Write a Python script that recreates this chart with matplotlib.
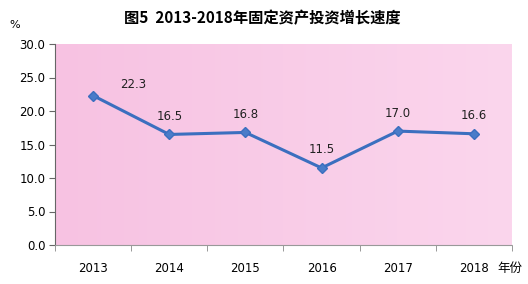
import numpy as np
import matplotlib.pyplot as plt

plt.rcParams['font.family'] = ['Noto Sans CJK SC', 'DejaVu Sans']

years = ['2013', '2014', '2015', '2016', '2017', '2018']
growth = [22.3, 16.5, 16.8, 11.5, 17.0, 16.6]
yticks = [0.0, 5.0, 10.0, 15.0, 20.0, 25.0, 30.0]

fig = plt.figure(figsize=(5.28, 2.84), dpi=100)
ax = fig.add_axes([55 / 528, 39 / 284, 457 / 528, 201 / 284])

x = np.arange(len(years))

# pink gradient background, stronger on the left
grad = np.linspace(0, 1, 256).reshape(1, -1)
c0 = np.array([247, 194, 226]) / 255
c1 = np.array([251, 214, 237]) / 255
img = c0[None, None, :] * (1 - grad[..., None]) + c1[None, None, :] * grad[..., None]
ax.imshow(img, extent=[-0.5, 5.5, 0, 30], aspect='auto', zorder=0)

ax.plot(x, growth, color='#3b6fbf', linewidth=2.2, marker='D', markersize=5,
        markerfacecolor='#4a7cc9', markeredgecolor='#3b6fbf', zorder=3)

for i, v in enumerate(growth):
    if i == 0:
        ax.annotate(f'{v:.1f}', (i, v), xytext=(29, 8), textcoords='offset points',
                    ha='center', va='center', fontsize=8.5, color='#222222',
                    family='DejaVu Sans')
    else:
        ax.annotate(f'{v:.1f}', (i, v), xytext=(0, 13), textcoords='offset points',
                    ha='center', va='center', fontsize=8.5, color='#222222',
                    family='DejaVu Sans')

ax.set_xlim(-0.5, 5.5)
ax.set_ylim(0, 30)
ax.set_yticks(yticks)
ax.set_yticklabels([f'{t:.1f}' for t in yticks], fontsize=8.5, family='DejaVu Sans')
ax.set_xticks(x)
ax.set_xticklabels(years, fontsize=8.5, family='DejaVu Sans')
ax.set_xticks(np.arange(-0.5, 6, 1), minor=True)
ax.tick_params(axis='x', which='major', length=0, pad=12)
ax.tick_params(axis='x', which='minor', length=4, color='#888888')
ax.tick_params(axis='y', length=4, color='#666666', pad=3)

for s in ['top', 'right']:
    ax.spines[s].set_visible(False)
ax.spines['left'].set_color('#666666')
ax.spines['bottom'].set_color('#999999')
ax.spines['bottom'].set_linestyle((0, (1, 1)))

fig.text(262 / 528, 1 - 18 / 284, '图5  2013-2018年固定资产投资增长速度',
         ha='center', va='center', fontsize=11, fontweight='bold')
fig.text(15 / 528, 1 - 25 / 284, '%', ha='center', va='center', fontsize=8,
         family='DejaVu Sans')
fig.text(510 / 528, 1 - 268 / 284, '年份', ha='center', va='center', fontsize=9)

fig.savefig('out.png', dpi=100)
